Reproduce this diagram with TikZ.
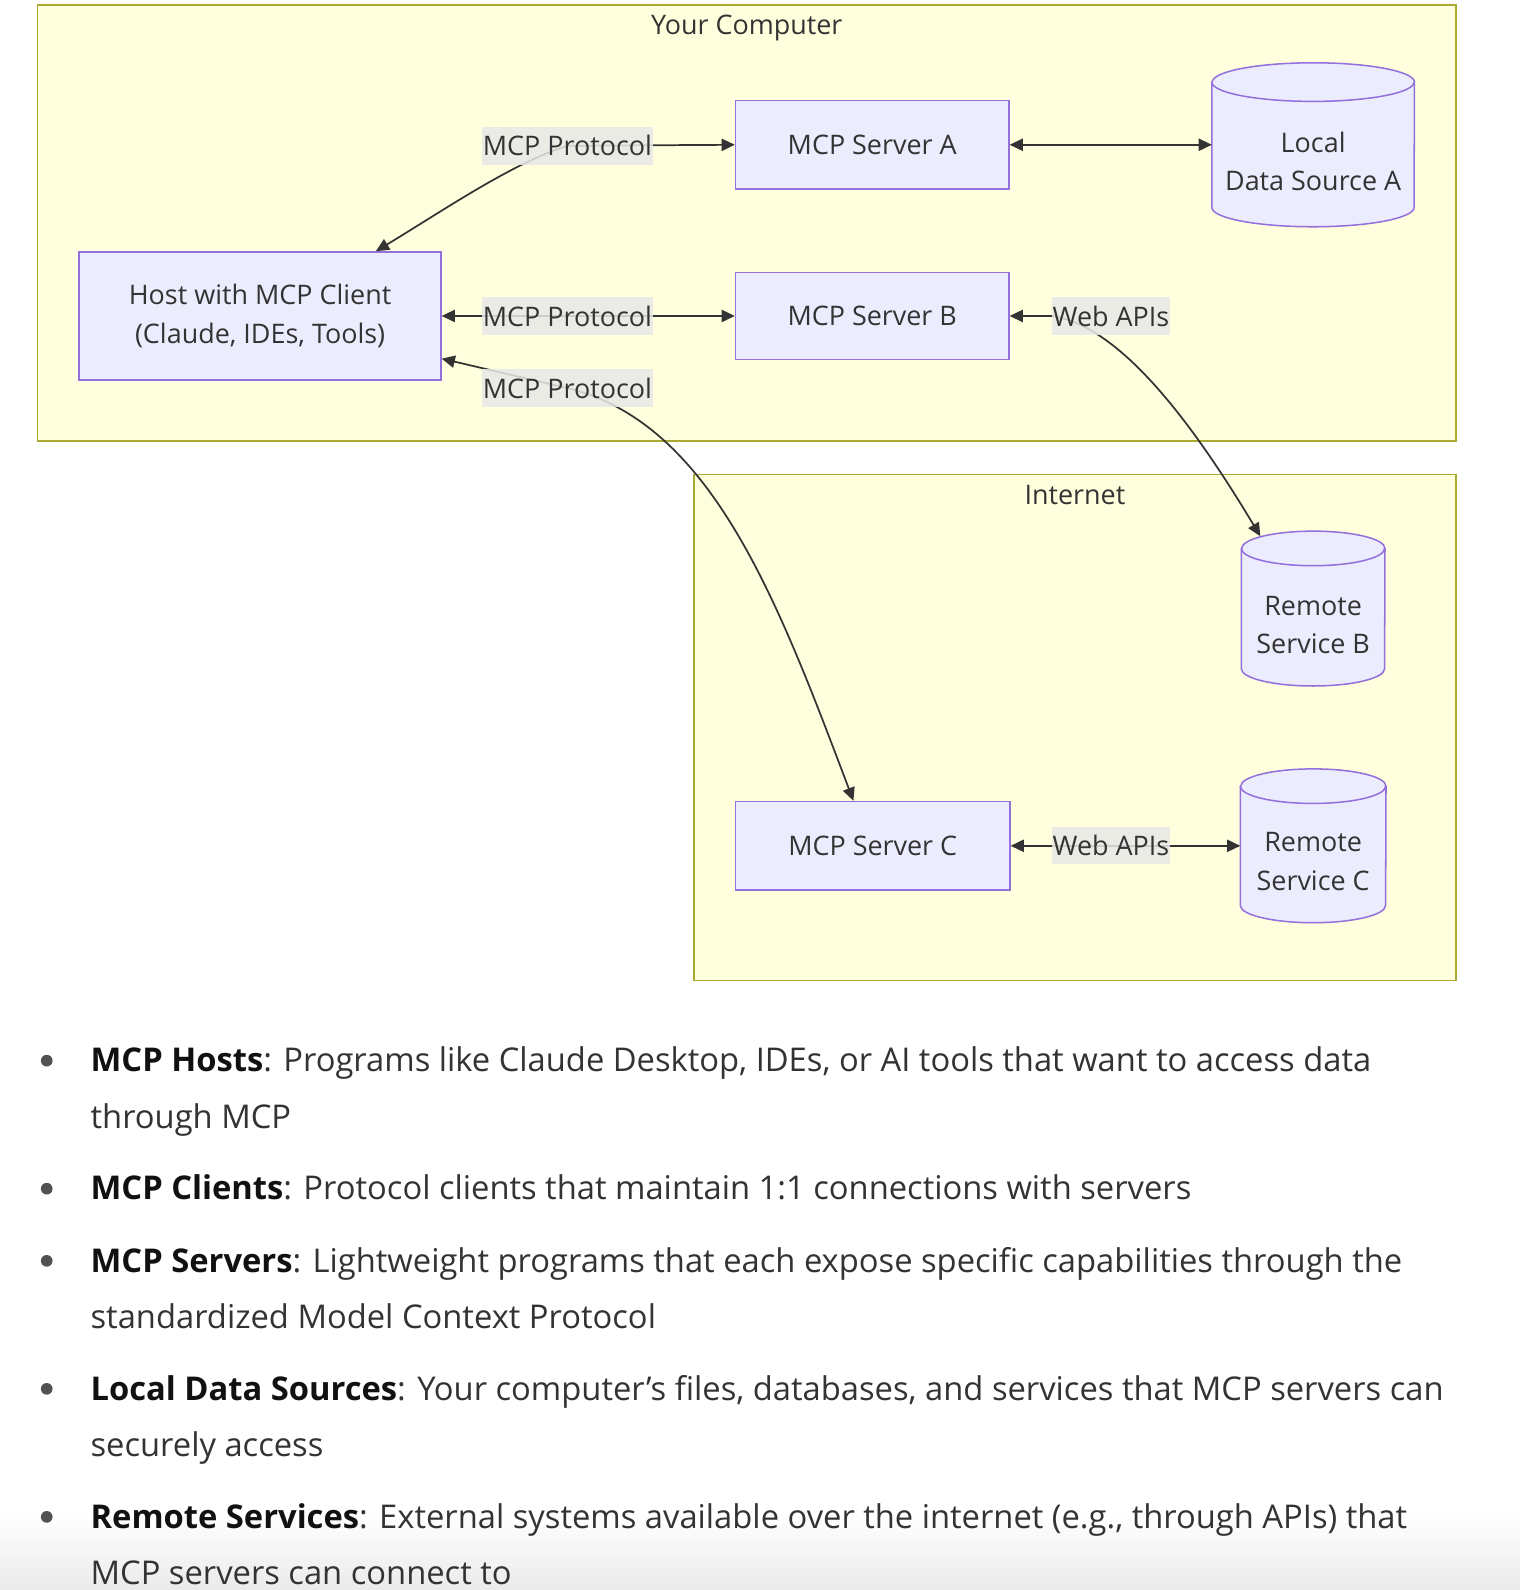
\documentclass[tikz,border=0pt]{standalone}
\usepackage{fontspec}
\setmainfont{Open Sans}
\usetikzlibrary{arrows.meta}
\pgfdeclarelayer{bg}\pgfdeclarelayer{mid}\pgfdeclarelayer{front}
\pgfsetlayers{bg,mid,main,front}
\definecolor{clfill}{HTML}{FFFFDE}
\definecolor{clline}{HTML}{AAAA33}
\definecolor{ndfill}{HTML}{ECECFF}
\definecolor{ndline}{HTML}{9370DB}
\definecolor{txt}{HTML}{333333}
\definecolor{lblfill}{HTML}{E8E8E8}
\definecolor{boldtxt}{HTML}{111111}
\begin{document}
\begin{tikzpicture}[x=1pt,y=-1pt,
  dfont/.style={font=\fontsize{26.5}{38}\selectfont},
  cluster/.style={fill=clfill,draw=clline,line width=1.5pt},
  boxnode/.style={dfont,fill=ndfill,draw=ndline,line width=1.5pt,text=txt,align=center,inner sep=0pt},
  shapenode/.style={inner sep=0pt,draw=none},
  cyltext/.style={dfont,text=txt,align=center,inner sep=0pt},
  cylbody/.style={fill=ndfill,draw=ndline,line width=1.5pt},
  elabel/.style={dfont,fill=lblfill,fill opacity=0.85,text opacity=1,text=txt,inner xsep=1pt,inner ysep=0pt,minimum height=37pt},
  ctitle/.style={dfont,text=txt,inner sep=0pt},
  conn/.style={draw=txt,line width=1.7pt,{Triangle[length=13pt,width=12pt]}-{Triangle[length=13pt,width=12pt]}},
  bul/.style={anchor=base west,font=\fontsize{32.2}{40}\selectfont,text=txt,inner sep=0pt},
  dot/.style={fill=txt!85,draw=none,circle,inner sep=0pt,minimum size=11.5pt}
]
\useasboundingbox (0,0) rectangle (1496,1565);
\begin{pgfonlayer}{bg}
  \fill[white] (0,0) rectangle (1496,1565);
  \shade[top color=white,bottom color=black!8] (0,1490) rectangle (1496,1565);
  \draw[cluster] (37,5) rectangle (1433,434);
  \draw[cluster] (683,467) rectangle (1433,965);
\end{pgfonlayer}
\node[ctitle] (tyc) at (735,27.5) {Your Computer};
\node[ctitle] (tin) at (1058,487) {Internet};

% boxes
\node[boxnode,minimum width=356pt,minimum height=126pt] (host) at (256,311) {Host with MCP Client\\(Claude, IDEs, Tools)};
\node[boxnode,minimum width=269pt,minimum height=87pt] (sA) at (858.5,142.5) {MCP Server A};
\node[boxnode,minimum width=269pt,minimum height=86pt] (sB) at (858.5,311) {MCP Server B};
\node[boxnode,minimum width=270pt,minimum height=87pt] (sC) at (859,832.5) {MCP Server C};

% cylinders
\node[shapenode,minimum width=199pt,minimum height=161pt] (lds) at (1292.5,142.5) {};
\node[shapenode,minimum width=141pt,minimum height=152pt] (rsb) at (1292.5,599) {};
\node[shapenode,minimum width=143pt,minimum height=151pt] (rsc) at (1292.5,832.5) {};
\begin{pgfonlayer}{mid}
  \foreach \n/\rx/\ry in {lds/99.5/19, rsb/70.5/17, rsc/71.5/17}{
    \draw[cylbody] ([yshift=-\ry pt]\n.north west) -- ([yshift=\ry pt]\n.south west)
      arc[start angle=180,end angle=360,x radius=\rx pt,y radius=\ry pt]
      -- ([yshift=-\ry pt]\n.north east)
      arc[start angle=0,end angle=180,x radius=\rx pt,y radius=\ry pt] -- cycle;
    \draw[ndline,line width=1.5pt] ([yshift=-\ry pt]\n.north west)
      arc[start angle=180,end angle=360,x radius=\rx pt,y radius=\ry pt];
  }
\end{pgfonlayer}
\node[cyltext] (ldsT) at ([yshift=-16.5pt]lds.center) {Local\\Data Source A};
\node[cyltext] (rsbT) at ([yshift=-16pt]rsb.center) {Remote\\Service B};
\node[cyltext] (rscT) at ([yshift=-15.5pt]rsc.center) {Remote\\Service C};

% edge labels
\begin{pgfonlayer}{front}
  \node[elabel] (l1) at (558.5,143.5) {MCP Protocol};
  \node[elabel] (l2) at (558.5,311) {MCP Protocol};
  \node[elabel] (l3) at (558.5,382) {MCP Protocol};
  \node[elabel] (w1) at (1093.5,311) {Web APIs};
  \node[elabel] (w2) at (1093.5,832) {Web APIs};
\end{pgfonlayer}

% connectors
\draw[conn] ([xshift=114pt]host.north) .. controls (435,208) and (505,160) .. (l1.center) -- (sA.west);
\draw[conn] (sA.east) -- (lds.west);
\draw[conn] (host.east) -- (sB.west);
\draw[conn] (sB.east) -- (w1.west) .. controls (1100,320) and (1170,410) .. ([xshift=-52pt,yshift=-5pt]rsb.north);
\draw[conn] ([yshift=-42pt]host.east) -- (l3.center) .. controls (700,416) and (765,590) .. ([xshift=-19pt]sC.north);
\draw[conn] (sC.east) -- (rsc.west);

% bullets
\node[dot] (d1) at (46,1044) {};
\node[bul] (b1a) at (89,1055) {\textcolor{boldtxt}{\textbf{MCP Hosts}}: Programs like Claude Desktop, IDEs, or AI tools that want to access data};
\node[bul] (b1b) at (89,1110.6) {through MCP};
\node[dot] (d2) at (46,1170) {};
\node[bul] (b2a) at (89,1181) {\textcolor{boldtxt}{\textbf{MCP Clients}}: Protocol clients that maintain 1:1 connections with servers};
\node[dot] (d3) at (46,1241) {};
\node[bul] (b3a) at (89,1252) {\textcolor{boldtxt}{\textbf{MCP Servers}}: Lightweight programs that each expose specific capabilities through the};
\node[bul] (b3b) at (89,1307.6) {standardized Model Context Protocol};
\node[dot] (d4) at (46,1367) {};
\node[bul] (b4a) at (89,1378) {\textcolor{boldtxt}{\textbf{Local Data Sources}}: Your computer’s files, databases, and services that MCP servers can};
\node[bul] (b4b) at (89,1433.6) {securely access};
\node[dot] (d5) at (46,1493) {};
\node[bul] (b5a) at (89,1504) {\textcolor{boldtxt}{\textbf{Remote Services}}: External systems available over the internet (e.g., through APIs) that};
\node[bul] (b5b) at (89,1559.6) {MCP servers can connect to};
\end{tikzpicture}
\end{document}
